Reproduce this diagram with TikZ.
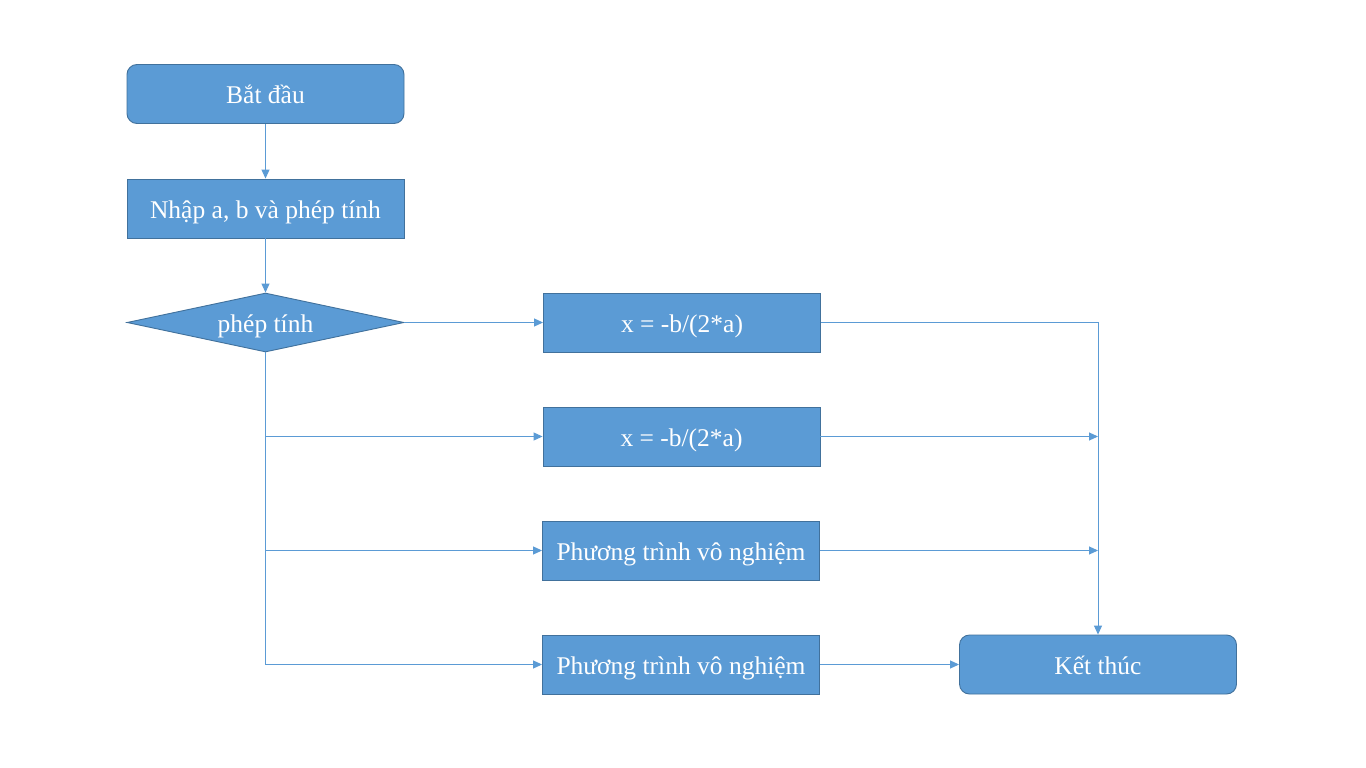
\documentclass[tikz,border=0pt]{standalone}
\usepackage{fontspec}
\setmainfont{Liberation Serif}
\usetikzlibrary{arrows.meta,shapes.geometric}
\definecolor{boxfill}{HTML}{5B9BD5}
\definecolor{boxedge}{HTML}{41719C}
\begin{document}
\begin{tikzpicture}[x=1pt,y=-1pt,
  base/.style={fill=boxfill,draw=boxedge,line width=0.9pt,text=white,
    font=\fontsize{25.5}{28}\selectfont,inner sep=0pt,
    text height=21pt,text depth=2pt},
  procbox/.style={base,rectangle,minimum width=277pt,minimum height=59pt},
  termbox/.style={procbox,rounded corners=10pt},
  decbox/.style={base,diamond,aspect=4.7,minimum width=277pt,minimum height=59pt},
  flow/.style={draw=boxfill,line width=1pt,-{Triangle[length=9pt,width=8pt]}}]
\useasboundingbox (0,0) rectangle (1366,768);
\fill[white] (0,0) rectangle (1366,768);

\node[termbox] (start) at (265.5,94) {Bắt đầu};
\node[procbox] (input) at (265.5,208.5) {Nhập a, b và phép tính};
\node[decbox]  (dec)   at (265.5,322.5) {phép tính};
\node[procbox] (b1) at (682,322.5) {x = -b/(2*a)};
\node[procbox] (b2) at (681.5,436.5) {x = -b/(2*a)};
\node[procbox] (b3) at (681,550.5) {Phương trình vô nghiệm};
\node[procbox] (b4) at (681,664.5) {Phương trình vô nghiệm};
\node[termbox] (end) at (1098,664.5) {Kết thúc};

% main column
\draw[flow] (start) -- (input);
\draw[flow] (input) -- (dec);

% branches out of the decision
\draw[flow] (dec.east) -- (b1.west);
\draw[flow] (dec.south) |- (b4.west);
\coordinate (j2) at (dec.south |- b2.west);
\coordinate (j3) at (dec.south |- b3.west);
\draw[flow] (j2) -- (b2.west);
\draw[flow] (j3) -- (b3.west);

% results converge on the end node
\draw[flow] (b1.east) -| (end.north);
\coordinate (m2) at (end.north |- b2.east);
\coordinate (m3) at (end.north |- b3.east);
\draw[flow] (b2.east) -- (m2);
\draw[flow] (b3.east) -- (m3);
\draw[flow] (b4.east) -- (end.west);
\end{tikzpicture}
\end{document}
